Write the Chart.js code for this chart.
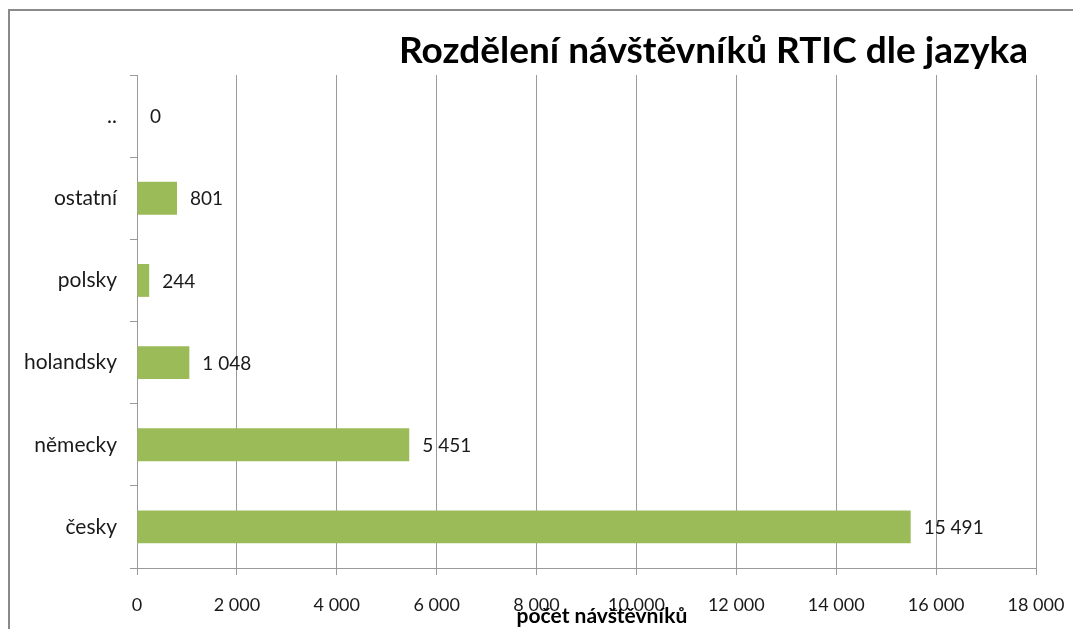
<!DOCTYPE html>
<html>
<head>
<meta charset="utf-8">
<script src="https://cdn.jsdelivr.net/npm/chart.js@4"></script>
<style>
html,body{margin:0;padding:0;background:#fff;}
canvas{display:block;}
</style>
</head>
<body>
<canvas id="c" width="1073" height="629"></canvas>
<script>
const chartTitle = 'Rozdělení návštěvníků RTIC dle jazyka';
const axisTitle = 'počet návštěvníků';
const categories = ['..', 'ostatní', 'polsky', 'holandsky', 'německy', 'česky'];
const visitors = [0, 801, 244, 1048, 5451, 15491];
const xTicks = [0, 2000, 4000, 6000, 8000, 10000, 12000, 14000, 16000, 18000];

const FONT = 'Lato, "Open Sans", sans-serif';
const fmt = v => String(v).replace(/\B(?=(\d{3})+(?!\d))/g, ' ');

const frameAndTitles = {
  id: 'frameAndTitles',
  beforeDraw(chart) {
    const ctx = chart.ctx;
    ctx.save();
    ctx.strokeStyle = '#8a8a8a';
    ctx.lineWidth = 2;
    ctx.beginPath();
    ctx.moveTo(9, 640);
    ctx.lineTo(9, 10);
    ctx.lineTo(1080, 10);
    ctx.stroke();
    ctx.restore();
  },
  afterDraw(chart) {
    const ctx = chart.ctx;
    ctx.save();
    ctx.fillStyle = '#000';
    ctx.textBaseline = 'alphabetic';
    ctx.font = 'bold 37px ' + FONT;
    ctx.textAlign = 'right';
    ctx.fillText(chartTitle, 1028, 63);
    ctx.font = 'bold 21px ' + FONT;
    ctx.textAlign = 'center';
    ctx.fillText(axisTitle, 602, 623);
    ctx.restore();
  }
};

const valueLabels = {
  id: 'valueLabels',
  afterDatasetsDraw(chart) {
    const ctx = chart.ctx;
    const meta = chart.getDatasetMeta(0);
    ctx.save();
    ctx.fillStyle = '#1a1a1a';
    ctx.font = '19px ' + FONT;
    ctx.textAlign = 'left';
    ctx.textBaseline = 'middle';
    meta.data.forEach((el, i) => {
      ctx.fillText(fmt(visitors[i]), el.x + 13, el.y + 1);
    });
    ctx.restore();
  }
};

new Chart(document.getElementById('c'), {
  type: 'bar',
  data: {
    labels: categories,
    datasets: [{
      data: visitors,
      backgroundColor: '#9bbb59',
      borderWidth: 0,
      barPercentage: 0.4,
      categoryPercentage: 1.0
    }]
  },
  options: {
    indexAxis: 'y',
    responsive: false,
    animation: false,
    layout: { padding: { left: 0, top: 75, right: 37, bottom: 0 } },
    plugins: {
      legend: { display: false },
      title: { display: false },
      tooltip: { enabled: false }
    },
    scales: {
      x: {
        min: 0,
        max: 18000,
        afterBuildTicks(scale) { scale.ticks = xTicks.map(v => ({ value: v })); },
        afterFit(scale) {
          scale.height = 61;
          scale.paddingLeft = 0;
          scale.paddingRight = 0;
        },
        grid: { color: '#9a9a9a', lineWidth: 1, tickLength: 7, drawTicks: true },
        border: { color: '#9a9a9a', width: 1 },
        ticks: {
          color: '#1a1a1a',
          font: { family: FONT, size: 18 },
          padding: 19,
          maxRotation: 0,
          autoSkip: false,
          callback: v => fmt(v)
        }
      },
      y: {
        afterFit(scale) { scale.width = 137; },
        grid: { drawOnChartArea: false, color: '#9a9a9a', tickLength: 7, offset: true },
        border: { color: '#9a9a9a', width: 1 },
        ticks: {
          color: '#1a1a1a',
          font: { family: FONT, size: 21 },
          padding: 13
        }
      }
    }
  },
  plugins: [frameAndTitles, valueLabels]
});
</script>
</body>
</html>
